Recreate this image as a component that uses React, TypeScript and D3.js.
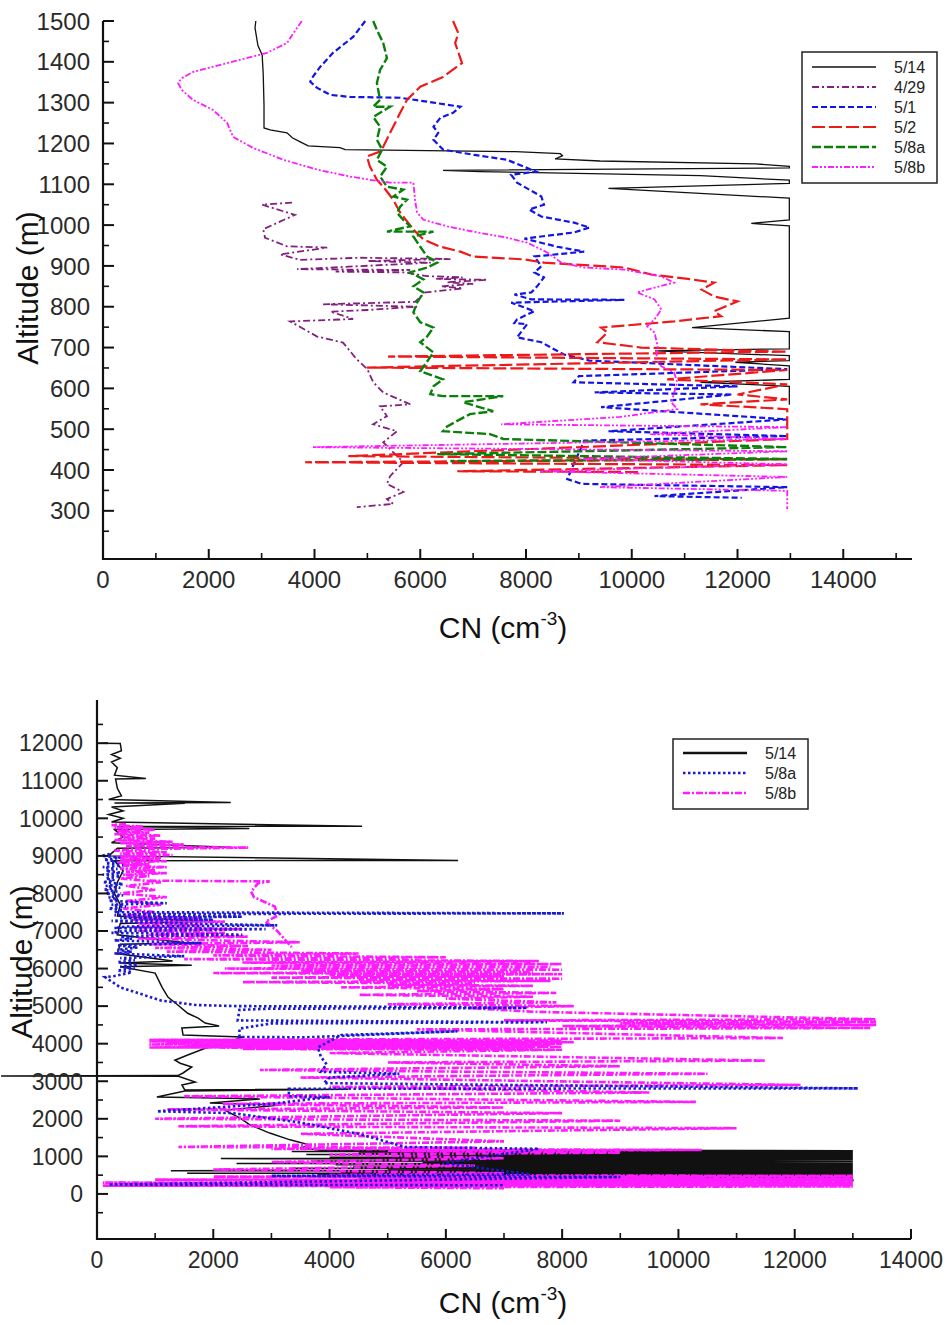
import React from 'react';
import * as d3 from 'd3';

// [CN (cm-3), altitude (m)] pairs

// ---- upper plot (boundary layer, 0-1500 m) ----
const top514 = [[2890,1500],[2875,1483],[2930,1440],[3010,1417],[3030,1370],[3045,1295],[3045,1238],[3160,1233],[3480,1226],[3580,1214],[3730,1204],[3880,1194],[4480,1190],[4580,1185],[7800,1180],[8650,1175],[8690,1170],[8550,1162],[9400,1157],[12340,1150],[12980,1144],[12980,1140],[6430,1134],[7130,1131],[11300,1121],[12980,1110],[12980,1102],[9560,1090],[12980,1066],[12980,1013],[12260,1004],[12980,998],[12980,772],[11140,749],[12980,739],[12980,697],[10440,692],[12980,680],[12980,668],[11960,664],[12980,655],[12980,622],[11300,615],[12980,605],[12980,560]];
const top429 = [[3575,1055],[3010,1050],[3630,1025],[3030,990],[3065,969],[3480,948],[4240,945],[3350,928],[3730,915],[4860,920],[6570,917],[5000,912],[6200,908],[3670,892],[5810,890],[4400,886],[5700,884],[6130,875],[6800,872],[6300,868],[7270,866],[6500,860],[7000,856],[6400,850],[6800,845],[6100,835],[5900,812],[4160,806],[5940,800],[5000,792],[4300,788],[4730,770],[3540,764],[4050,727],[4540,712],[4800,671],[5000,647],[5110,615],[5300,590],[5810,561],[5240,556],[5370,532],[5110,512],[5560,495],[5300,468],[5680,419],[5430,385],[5370,366],[5680,346],[5370,329],[5490,317],[4800,309]];
const top51 = [[4960,1500],[4730,1461],[4350,1422],[4110,1388],[3950,1360],[3920,1351],[4050,1336],[4300,1319],[4670,1314],[5620,1312],[6250,1300],[6760,1290],[6620,1275],[6380,1263],[6250,1241],[6340,1226],[6250,1209],[6430,1185],[7020,1172],[7640,1160],[8190,1131],[7720,1123],[7830,1104],[8290,1070],[8340,1050],[8060,1038],[8290,1021],[8910,1006],[9200,994],[8910,982],[7970,967],[8590,947],[9100,935],[8160,923],[8290,899],[8160,884],[8340,872],[8210,850],[8100,835],[7780,830],[8100,818],[9860,817],[7720,810],[8160,789],[7830,769],[7780,760],[8020,757],[7830,725],[8290,713],[8530,696],[8720,683],[9200,668],[12940,647],[9000,630],[8900,615],[12000,605],[9300,590],[11900,585],[9420,554],[12940,524],[9560,495],[12940,483],[9100,472],[8780,378],[9050,366],[12940,358],[10430,336],[12080,332]];
const top52 = [[6620,1500],[6720,1470],[6660,1446],[6790,1397],[6430,1363],[6000,1339],[5750,1307],[5620,1275],[5430,1226],[5300,1192],[5240,1180],[4990,1168],[5050,1143],[5180,1111],[5300,1094],[5490,1062],[5620,1031],[5870,989],[6060,965],[6380,947],[6760,935],[7000,923],[7970,916],[8340,908],[9860,896],[10370,879],[11130,867],[11560,859],[11320,842],[11560,825],[12000,813],[11560,789],[11690,777],[10800,764],[9420,749],[9540,737],[9350,713],[10180,700],[12940,690],[5390,678],[12940,671],[4990,651],[12940,645],[10670,622],[12940,610],[12000,585],[12940,573],[11300,561],[12940,549],[12940,476],[4640,434],[12940,426],[3820,419],[12940,412],[6700,397],[10160,395]];
const top58a = [[5110,1500],[5180,1478],[5300,1446],[5370,1409],[5240,1380],[5180,1348],[5240,1307],[5110,1290],[5430,1290],[5110,1265],[5240,1241],[5180,1209],[5280,1185],[5180,1160],[5370,1143],[5240,1119],[5370,1094],[5680,1087],[5490,1070],[5750,1062],[5620,1045],[5560,1030],[5680,1013],[5810,997],[5370,984],[6250,984],[5870,972],[6000,947],[6130,923],[6320,908],[6130,896],[5810,884],[6060,867],[5870,850],[6060,835],[5940,810],[5870,786],[6000,762],[6250,749],[6130,727],[6000,713],[6250,688],[6130,666],[6000,642],[6430,622],[6250,605],[6190,586],[6430,581],[7570,581],[6810,566],[7380,544],[6940,537],[6510,507],[6430,495],[7320,488],[7570,476],[12940,456],[6320,439],[12940,427],[6570,422]];
const top58b = [[3760,1500],[3600,1470],[3480,1446],[3100,1422],[2590,1405],[2080,1388],[1700,1375],[1490,1360],[1420,1348],[1490,1331],[1700,1307],[2080,1282],[2350,1250],[2460,1216],[2840,1189],[3410,1160],[4050,1136],[4670,1119],[5050,1111],[5430,1104],[5870,1104],[5900,1062],[5940,1031],[6060,1013],[6510,997],[7000,984],[7640,969],[8020,957],[8400,933],[8670,908],[9100,896],[9860,891],[10560,874],[10800,859],[10290,842],[10100,835],[10430,818],[10560,793],[10430,769],[10290,752],[10430,737],[10490,703],[10460,671],[10560,654],[10800,639],[10860,615],[10750,566],[10860,549],[9780,530],[7530,512],[12940,505],[10350,488],[12940,476],[3970,456],[12940,446],[9030,427],[12940,414],[8270,397],[12940,383],[9400,358],[12940,349],[12940,304]];

// ---- lower plot (full profile, 0-12000 m) ----
const bot514 = [[100,12000],[400,11990],[420,11800],[250,11700],[400,11600],[250,11500],[350,11350],[300,11150],[840,11060],[320,11050],[350,10800],[420,10600],[200,10500],[2300,10420],[300,10410],[1510,10400],[250,10300],[450,10200],[200,10100],[450,10000],[250,9900],[4560,9790],[350,9780],[2620,9730],[300,9700],[450,9500],[250,9350],[2230,9230],[350,9200],[200,9000],[6210,8880],[300,8870],[450,8600],[350,8300],[300,8000],[400,7700],[350,7400],[1800,7250],[400,7200],[350,6900],[1560,6680],[400,6650],[350,6400],[1300,6200],[400,6150],[1630,6090],[400,6050],[1000,5880],[1120,5500],[1220,5240],[1390,5030],[1560,4810],[1740,4680],[1860,4550],[2100,4470],[1460,4420],[1480,4230],[2500,4180],[2250,4040],[1860,3880],[1560,3700],[1340,3560],[1430,3480],[1630,3380],[1480,3220],[1390,3150],[-1650,3140],[1400,3130],[1690,2980],[1460,2900],[1510,2770],[4320,2790],[1510,2740],[1030,2580],[2800,2530],[1940,2420],[3150,2370],[2200,2230],[2460,2020],[2630,1840],[2970,1620],[3320,1440],[3660,1300],[3490,1220],[3830,1170],[13000,1150],[3350,1130],[13000,1110],[4500,1090],[13000,1070],[3600,1050],[13000,1030],[5200,1010],[13000,990],[4000,975],[13000,960],[2130,940],[13000,920],[4800,905],[13000,890],[3700,875],[13000,860],[5600,845],[13000,830],[2400,810],[13000,790],[4100,775],[13000,760],[6000,745],[13000,730],[4400,715],[13000,700],[3400,685],[13000,670],[5000,655],[13000,640],[1270,620],[13000,600],[4200,585],[13000,570],[1550,550],[13000,530],[3800,515],[13000,500],[5000,485],[13000,470],[3700,455],[13000,440],[6000,425],[13000,410],[4500,395],[13000,380],[13000,330]];
const bot58a = [[220,9050],[80,9000],[400,8950],[120,8900],[350,8850],[150,8800],[450,8750],[100,8700],[350,8650],[150,8600],[450,8550],[100,8500],[400,8450],[150,8400],[300,8350],[100,8300],[450,8250],[150,8200],[400,8150],[120,8100],[350,8050],[150,8000],[450,7950],[200,7900],[350,7850],[200,7800],[1200,7740],[250,7700],[500,7650],[200,7600],[450,7550],[300,7500],[8030,7470],[600,7450],[300,7420],[2500,7380],[400,7350],[2000,7300],[250,7270],[600,7230],[3100,7150],[500,7120],[300,7080],[2900,7050],[450,7000],[250,6950],[2500,6900],[400,6850],[600,6800],[300,6750],[1800,6680],[350,6620],[700,6560],[350,6500],[600,6450],[300,6400],[1500,6330],[400,6280],[650,6220],[350,6170],[700,6100],[400,6050],[650,6000],[350,5950],[600,5900],[450,5850],[300,5800],[140,5770],[400,5500],[1100,5150],[1700,5030],[2400,5000],[4500,4990],[7400,4950],[2950,4930],[2450,4900],[2420,4620],[7740,4570],[3000,4540],[2450,4400],[2450,4180],[3600,4170],[6200,4330],[4200,4230],[3800,3900],[3850,3650],[3950,3450],[3850,3250],[5200,3200],[4000,3100],[3900,2950],[13090,2810],[3300,2800],[3300,2600],[4000,2580],[3000,2400],[1030,2200],[2340,2150],[3500,1900],[4500,1600],[5300,1250],[7600,1200],[5950,820],[7450,520],[3000,480],[9000,450],[200,250],[7000,230]];
const bot58b = [[500,9850],[250,9820],[800,9780],[300,9740],[1000,9700],[350,9660],[900,9620],[300,9580],[1100,9540],[400,9500],[1000,9460],[300,9420],[1300,9380],[400,9340],[1500,9300],[500,9260],[2600,9220],[700,9180],[300,9140],[1200,9100],[400,9060],[1300,9020],[350,8980],[1100,8940],[400,8900],[1200,8860],[350,8820],[900,8780],[450,8740],[1200,8700],[400,8660],[1000,8620],[500,8580],[1200,8540],[450,8500],[900,8460],[400,8400],[1100,8300],[500,8200],[1000,8100],[400,8000],[1200,7900],[500,7800],[1100,7700],[450,7600],[1000,7500],[500,7400],[1800,7350],[600,7300],[2200,7250],[700,7200],[1800,7150],[600,7100],[2500,7050],[700,7000],[2200,6950],[900,6900],[2600,6850],[700,6800],[2000,6750],[3500,6700],[900,6650],[2600,6600],[1000,6550],[3000,6500],[1200,6450],[4500,6400],[2000,6350],[6000,6300],[1500,6250],[7600,6200],[2500,6160],[8000,6120],[3000,6080],[7800,6040],[2200,6000],[8000,5970],[3500,5940],[7500,5910],[2000,5880],[8000,5850],[4000,5820],[7000,5790],[3000,5760],[8000,5730],[4500,5700],[7800,5670],[2500,5640],[6500,5600],[5000,5570],[7500,5540],[4200,5500],[7000,5450],[5500,5400],[7900,5350],[4500,5300],[7500,5250],[6000,5200],[7900,5100],[5000,5050],[8200,5000],[6400,4950],[7500,4850],[13400,4650],[7000,4620],[13400,4580],[9000,4540],[13400,4500],[8000,4470],[13300,4420],[5500,4380],[11800,4150],[900,4100],[8000,4080],[900,4060],[8200,4040],[1200,4020],[8000,4000],[900,3980],[7800,3960],[1500,3940],[8000,3920],[900,3900],[7500,3880],[2500,3860],[8000,3840],[4000,3750],[11500,3550],[5000,3500],[9000,3400],[2800,3300],[10500,3200],[3500,3100],[12100,2900],[4000,2850],[9500,2700],[1500,2600],[10300,2450],[2150,2400],[7000,2300],[1200,2250],[8000,2150],[1000,2000],[9000,1950],[1400,1800],[11000,1750],[3500,1600],[7000,1400],[1400,1250],[6500,1230],[3000,1200],[10400,1170],[5000,1150],[9000,1100],[4000,1050],[7000,950],[3000,850],[6500,750],[2000,650],[7000,550],[4000,500],[13000,480],[2000,460],[13000,440],[5000,420],[13000,400],[1000,380],[13000,360],[3000,340],[13000,320],[100,300],[13000,280],[500,260],[13000,240],[100,220],[13000,200],[4000,180],[7000,150]];
// thin excursion of 5/8b near 8300 m
const bot58bArc = [[900,8340],[2970,8320],[2770,8270],[2650,8050],[2700,7900],[3060,7650],[3100,7400],[2900,7250],[3100,7000],[3350,6570]];

const topNames = ['5/14', '4/29', '5/1', '5/2', '5/8a', '5/8b'];
const botNames = ['5/14', '5/8a', '5/8b'];

const topYTicks = [300, 400, 500, 600, 700, 800, 900, 1000, 1100, 1200, 1300, 1400, 1500];
const topXTicks = [0, 2000, 4000, 6000, 8000, 10000, 12000, 14000];
const botYTicks = [0, 1000, 2000, 3000, 4000, 5000, 6000, 7000, 8000, 9000, 10000, 11000, 12000];
const botXTicks = [0, 2000, 4000, 6000, 8000, 10000, 12000, 14000];

const FONT = '"Liberation Sans", Arial, sans-serif';

const topStyles = [
  { color: '#111', dash: '', width: 1.3 },
  { color: '#82207e', dash: '7,3,2,3', width: 1.8 },
  { color: '#1414e6', dash: '6,3', width: 2.2 },
  { color: '#ee1a1a', dash: '13,4', width: 2.2 },
  { color: '#0a800a', dash: '9,3', width: 2.4 },
  { color: '#ff1cff', dash: '6,2,2,2,2,2', width: 1.8 },
];
const botStyles = [
  { color: '#111', dash: '', width: 1.5 },
  { color: '#1a1ad2', dash: '2.5,2.5', width: 2.6 },
  { color: '#ff1cff', dash: '7,2,2,2', width: 2.6 },
];

function Panel({ series, styleOf, names, styles, x, y, yTicks, xTicks, yMinor, xMinor, yLabelRight, xLabelBase, yTitleX, yTitleY, xTitleY, legend, tickFont }) {
  const line = d3.line<number[]>().x((d) => x(d[0])).y((d) => y(d[1]));
  const [x0, x1] = x.range();
  const [y0, y1] = y.range();
  return (
    <g>
      {series.map((s, i) => {
        const st = styles[styleOf[i]];
        return (
          <path key={i} d={line(s) || ''} fill="none" stroke={st.color}
            strokeWidth={st.width} strokeDasharray={st.dash} />
        );
      })}
      <line x1={x0} x2={x0} y1={y0 + 1} y2={y1} stroke="#111" strokeWidth={2.2} />
      <line x1={x0 - 1} x2={x1} y1={y0} y2={y0} stroke="#111" strokeWidth={2.2} />
      {yTicks.map((t) => (
        <g key={'y' + t}>
          <line x1={x0} x2={x0 + 11} y1={y(t)} y2={y(t)} stroke="#111" strokeWidth={2} />
          <text x={yLabelRight} y={y(t)} dy="0.36em" textAnchor="end" fontSize={tickFont}
            fontFamily={FONT} fill="#2a2a2a">{t}</text>
        </g>
      ))}
      {yMinor.map((t) => (
        <line key={'ym' + t} x1={x0} x2={x0 + 6} y1={y(t)} y2={y(t)} stroke="#111" strokeWidth={1.6} />
      ))}
      {xTicks.map((t) => (
        <g key={'x' + t}>
          <line x1={x(t)} x2={x(t)} y1={y0} y2={y0 - 10} stroke="#111" strokeWidth={2} />
          <text x={x(t)} y={xLabelBase} textAnchor="middle" fontSize={tickFont}
            fontFamily={FONT} fill="#2a2a2a">{t}</text>
        </g>
      ))}
      {xMinor.map((t) => (
        <line key={'xm' + t} x1={x(t)} x2={x(t)} y1={y0} y2={y0 - 6} stroke="#111" strokeWidth={1.6} />
      ))}
      <text transform={`translate(${yTitleX},${yTitleY}) rotate(-90)`} textAnchor="middle"
        fontSize={30} fontFamily={FONT} fill="#111">Altitude (m)</text>
      <text x={503} y={xTitleY} textAnchor="middle" fontSize={30} fontFamily={FONT} fill="#111">
        CN (cm<tspan dy={-13} fontSize={19}>-3</tspan><tspan dy={13}>)</tspan>
      </text>
      <rect x={legend.x} y={legend.y} width={legend.w} height={legend.h} fill="white" stroke="#222" strokeWidth={1.5} />
      {names.map((n, i) => (
        <g key={n}>
          <line x1={legend.x + 10} x2={legend.x + 74} y1={legend.y + legend.first + i * 20} y2={legend.y + legend.first + i * 20}
            stroke={styles[i].color} strokeWidth={i === 0 && names.length === 3 ? 2.5 : styles[i].width}
            strokeDasharray={styles[i].dash} />
          <text x={legend.x + 92} y={legend.y + legend.first + i * 20} dy="0.36em" fontSize={16}
            fontFamily={FONT} fill="#222">{n}</text>
        </g>
      ))}
    </g>
  );
}

export default function App() {
  const xTop = d3.scaleLinear().domain([0, 15300]).range([103, 912]);
  const yTop = d3.scaleLinear().domain([182, 1500]).range([559, 21]);
  const xBot = d3.scaleLinear().domain([0, 14000]).range([97, 911]);
  const yBot = d3.scaleLinear().domain([-1200, 13150]).range([1239, 700]);

  return (
    <svg width={948} height={1325} style={{ position: 'absolute', left: 0, top: 0, background: 'white' }}>
      <rect width={948} height={1325} fill="white" />
      <Panel
        series={[top514, top429, top51, top52, top58a, top58b]}
        styleOf={[0, 1, 2, 3, 4, 5]}
        names={topNames}
        styles={topStyles}
        x={xTop}
        y={yTop}
        yTicks={topYTicks}
        xTicks={topXTicks}
        yMinor={d3.range(250, 1500, 100)}
        xMinor={d3.range(1000, 15001, 2000)}
        yLabelRight={90}
        xLabelBase={588}
        yTitleX={38}
        yTitleY={288}
        xTitleY={638}
        tickFont={24}
        legend={{ x: 802, y: 52, w: 135, h: 131, first: 15 }}
      />
      <Panel
        series={[bot514, bot58b, bot58bArc, bot58a]}
        styleOf={[0, 2, 2, 1]}
        names={botNames}
        styles={botStyles}
        x={xBot}
        y={yBot}
        yTicks={botYTicks}
        xTicks={botXTicks}
        yMinor={d3.range(-500, 13000, 1000)}
        xMinor={d3.range(1000, 14000, 2000)}
        yLabelRight={83}
        xLabelBase={1268}
        yTitleX={32}
        yTitleY={962}
        xTitleY={1313}
        tickFont={23}
        legend={{ x: 673, y: 739, w: 135, h: 70, first: 14 }}
      />
    </svg>
  );
}
